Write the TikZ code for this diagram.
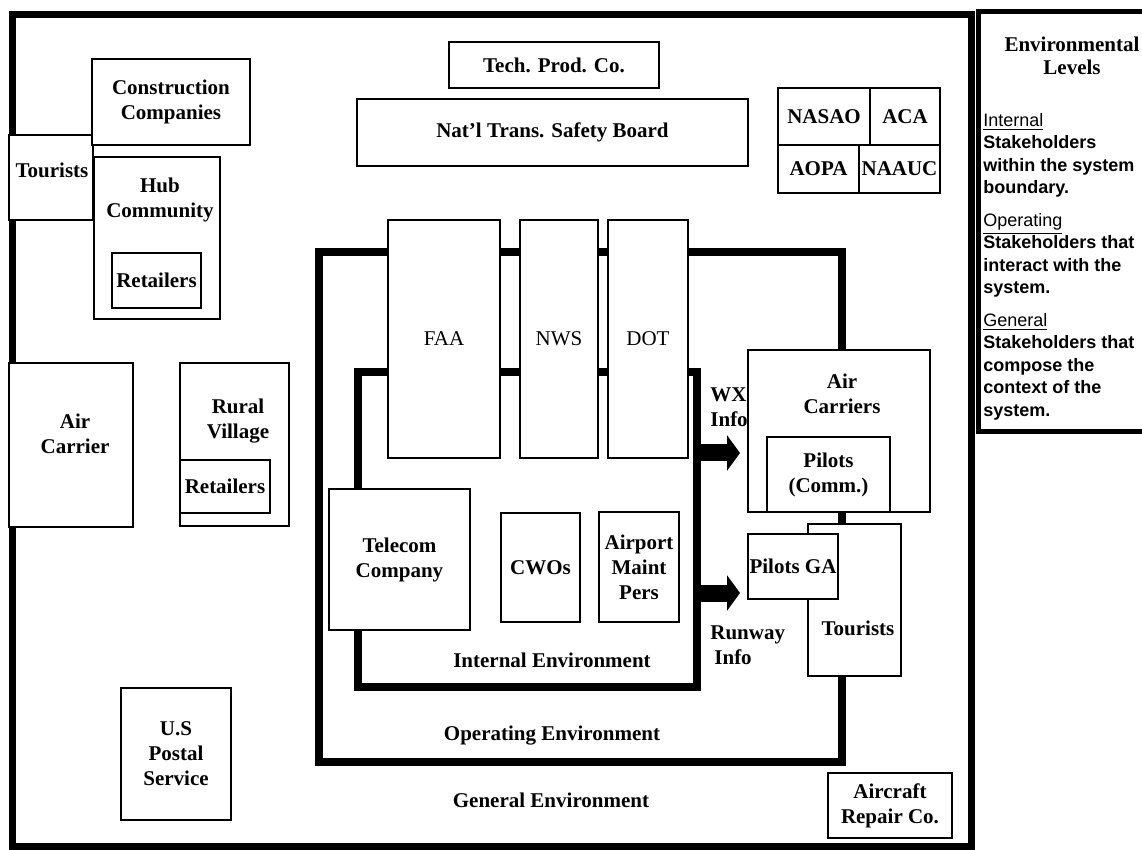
\documentclass[tikz,border=0pt]{standalone}
\usepackage{fontspec}
\setmainfont{Liberation Serif}
\newfontfamily\legendsans{Liberation Sans}
\usetikzlibrary{arrows.meta}
\newcommand{\boxfont}{\fontsize{10.5}{12.5}\selectfont\bfseries}
\newcommand{\agencyfont}{\fontsize{10.5}{12.5}\selectfont}
\tikzset{
  envbox/.style={draw,line width=4pt,inner sep=0pt},
  stakebox/.style={draw,line width=1.25pt,fill=white,inner sep=0pt,align=center,font=\boxfont},
  lbl/.style={inner sep=0pt,align=center,font=\boxfont},
  bigarrow/.style={line width=8.5pt,-{Triangle[length=6.5pt,width=17.5pt]}}
}

\begin{document}
\begin{tikzpicture}[x=0.5pt,y=-0.5pt]
\useasboundingbox (0,0) rectangle (1142,850);
% environment boundaries
\node[envbox,line width=3.5pt,minimum width=479.5pt,minimum height=415.5pt] (genenv) at (491.5,430.5) {};
\node[envbox,line width=2.5pt,minimum width=96pt,minimum height=210pt] (legend) at (1074,222) {};
\node[envbox,minimum width=261.5pt,minimum height=255pt] (openv) at (580.5,507) {};
\node[envbox,minimum width=169.5pt,minimum height=157.5pt] (intenv) at (527.5,529.5) {};
\coordinate (wxtip) at (740,453);
\coordinate (rwtip) at (740,593);
\draw[bigarrow] (wxtip -| intenv.east) -- (wxtip);
\draw[bigarrow] (rwtip -| intenv.east) -- (rwtip);
\node[lbl,anchor=west,align=left] (wxlbl) at (710,407) {WX\\Info};
\node[lbl,anchor=west,align=left] (rwlbl) at (710,645) {Runway\\\hspace{2pt}Info};
% general environment
\node[stakebox,minimum width=42pt,minimum height=42.5pt] (tourl) at (51,177.5) {};
\node[lbl] (tourltxt) at (52,170) {Tourists};
\node[stakebox,minimum width=79pt,minimum height=43pt] (constr) at (171,102) {Construction\\Companies};
\node[stakebox,minimum width=63pt,minimum height=81pt] (hub) at (157,238) {};
\node[lbl] (hubtxt) at (160,200) {Hub\\Community};
\node[stakebox,minimum width=44.5pt,minimum height=27.5pt] (hubret) at (156.5,280.5) {Retailers};
\node[stakebox,minimum width=62pt,minimum height=82pt] (aircl) at (71,445) {};
\node[lbl] (aircltxt) at (75,434) {Air\\Carrier};
\node[stakebox,minimum width=54.5pt,minimum height=81.5pt] (rural) at (234.5,444.5) {};
\node[lbl] (ruraltxt) at (238,421) {Rural\\Village};
\node[stakebox,minimum width=45pt,minimum height=26.5pt] (ruralret) at (225,486.5) {Retailers};
\node[stakebox,minimum width=55pt,minimum height=66pt] (usps) at (176,754) {U.S\\Postal\\Service};
\node[stakebox,minimum width=105pt,minimum height=23pt] (tech) at (554,65) {Tech. Prod. Co.};
\node[stakebox,minimum width=195.5pt,minimum height=33.5pt] (ntsb) at (552.5,132.5) {Nat'l Trans. Safety Board};
\node[stakebox,minimum width=46pt,minimum height=28.5pt] (nasao) at (824,116.5) {NASAO};
\node[stakebox,minimum width=35pt,minimum height=28.5pt] (aca) at (905,116.5) {ACA};
\node[stakebox,minimum width=40.5pt,minimum height=24pt] (aopa) at (818.5,169) {AOPA};
\node[stakebox,minimum width=40.5pt,minimum height=24pt] (naauc) at (899.5,169) {NAAUC};
\node[stakebox,minimum width=62pt,minimum height=32.5pt] (acrep) at (890,805.5) {Aircraft\\Repair Co.};
% operating environment
\node[stakebox,font=\agencyfont,minimum width=56pt,minimum height=119pt] (faa) at (444,339) {FAA};
\node[stakebox,font=\agencyfont,minimum width=39pt,minimum height=119pt] (nws) at (559,339) {NWS};
\node[stakebox,font=\agencyfont,minimum width=40pt,minimum height=119pt] (dot) at (648,339) {DOT};
\node[stakebox,minimum width=70.5pt,minimum height=70.5pt] (telecom) at (399.5,559.5) {Telecom\\Company};
\node[stakebox,minimum width=91pt,minimum height=81pt] (aircar) at (839,431) {};
\node[lbl] (aircartxt) at (842,394) {Air\\Carriers};
\node[stakebox,minimum width=61.5pt,minimum height=37.5pt] (pilcomm) at (828.5,474.5) {Pilots\\(Comm.)};
\node[stakebox,minimum width=46.5pt,minimum height=76pt] (tourr) at (854.5,600) {};
\node[lbl] (tourrtxt) at (858,628) {Tourists};
\node[stakebox,minimum width=45pt,minimum height=32.5pt] (pilga) at (793,566.5) {Pilots GA};
% internal environment
\node[stakebox,minimum width=39.5pt,minimum height=54.5pt] (cwos) at (540.5,567.5) {CWOs};
\node[stakebox,minimum width=40pt,minimum height=55pt] (apm) at (639,567) {Airport\\Maint\\Pers};
\node[lbl] (intlbl) at (552,660) {Internal Environment};
\node[lbl] (oplbl) at (552,736) {Operating Environment};
\node[lbl] (genlbl) at (551,800) {General Environment};
% legend
\node[inner sep=0pt,align=center,font=\bfseries\fontsize{10.5}{11.5}\selectfont] (legtitle) at (1072,56) {Environmental\\Levels};
\node[anchor=north west,inner sep=0pt,align=left,font=\legendsans\fontsize{9}{11.25}\selectfont\bfseries] (legbody) at (983,113)
  {\underline{\mdseries Internal}\\Stakeholders\\within the system\\boundary.\\[5pt]
   \underline{\mdseries Operating}\\Stakeholders that\\interact with the\\system.\\[5pt]
   \underline{\mdseries General}\\Stakeholders that\\compose the\\context of the\\system.};
\end{tikzpicture}
\end{document}
